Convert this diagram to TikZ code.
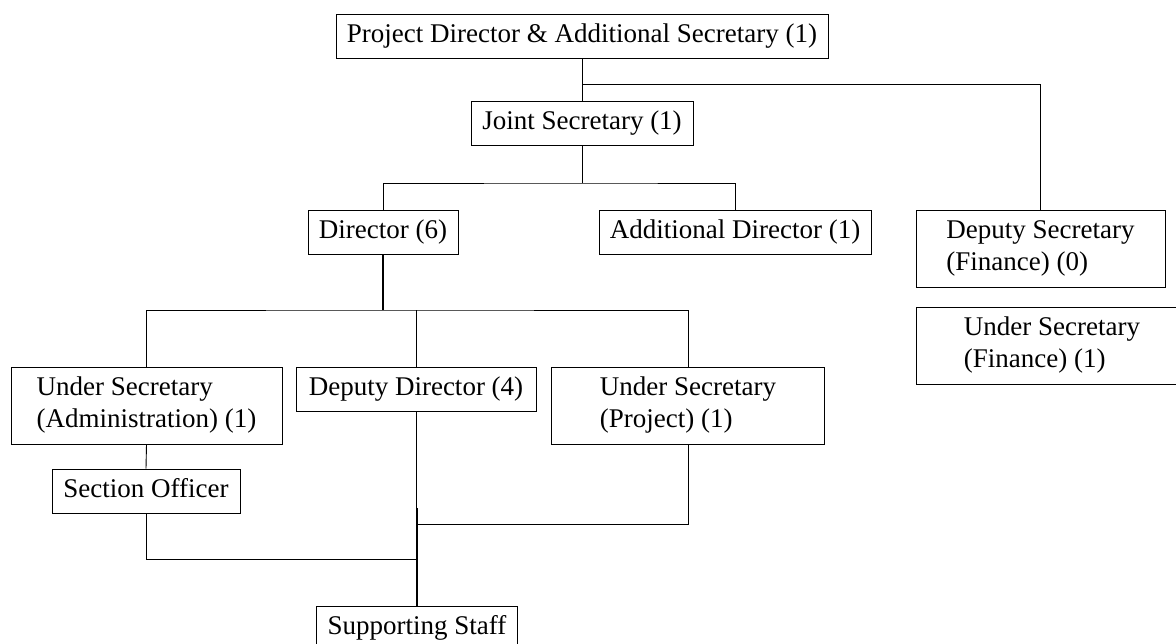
\documentclass[tikz,border=0pt]{standalone}
\usepackage{fontspec}
\setmainfont{Liberation Serif}
\begin{document}
\begin{tikzpicture}[x=1pt,y=-1pt,
  base/.style={draw, line width=0.9pt, inner sep=0pt, font=\fontsize{27}{32}\selectfont},
  post/.style={base, minimum height=44pt, text height=19pt, text depth=6pt},
  post2/.style={base, minimum height=77pt, align=left},
  link/.style={line width=0.9pt},
  trunk/.style={line width=1.6pt}]
\clip (0,0) rectangle (1176,644);

% posts
\node[post, minimum width=492pt] (pd) at (582,36) {Project Director \& Additional Secretary (1)};
\node[post, minimum width=222pt] (js) at (582,123) {Joint Secretary (1)};
\node[post, minimum width=150pt] (dir) at (383,232) {Director (6)};
\node[post, minimum width=272pt] (ad) at (735,232) {Additional Director (1)};
\node[post2, minimum width=249pt] (ds) at (1040.5,248.5) {Deputy Secretary\\(Finance) (0)};
\node[post2, minimum width=272pt] (usf) at (1052,345.5) {Under Secretary\\(Finance) (1)};
\node[post2, minimum width=271pt] (usa) at (146.5,405.5) {Under Secretary\\(Administration) (1)};
\node[post, minimum width=240pt] (dd) at (416,389) {Deputy Director (4)};
\node[post2, minimum width=273pt] (usp) at (688,405.5) {Under Secretary\\(Project) (1)};
\node[post, minimum width=188pt] (so) at (146,491) {Section Officer};
\node[post, minimum width=201pt] (ss) at (417,628) {Supporting Staff};

% junction points
\coordinate (rtap) at (582,84);
\coordinate (jbar) at (582,183);
\coordinate (dbar) at (383,310);
\coordinate (pbar) at (417,524);
\coordinate (sbar) at (417,559);
\coordinate (jog)  at (417,508);

% connectors
\draw[link] (pd.south) -- (js.north);
\draw[link] (rtap) -| (ds.north);
\draw[link] (js.south) -- (jbar);
\draw[link] (dir.north) |- (jbar) -| (ad.north);
\draw[trunk] (dir.south) -- (dbar);
\draw[link] (usa.north) |- (dbar) -| (usp.north);
\draw[link] (dd.north) -- (dd.north |- dbar);
\draw[link] (usa.south) -- (so.north);
\draw[link] (so.south) |- (sbar);
\draw[link] (usp.south) |- (pbar);
\draw[link] (dd.south) -- (dd.south |- jog);
\draw[trunk] (jog) -- (ss.north);
\end{tikzpicture}
\end{document}
